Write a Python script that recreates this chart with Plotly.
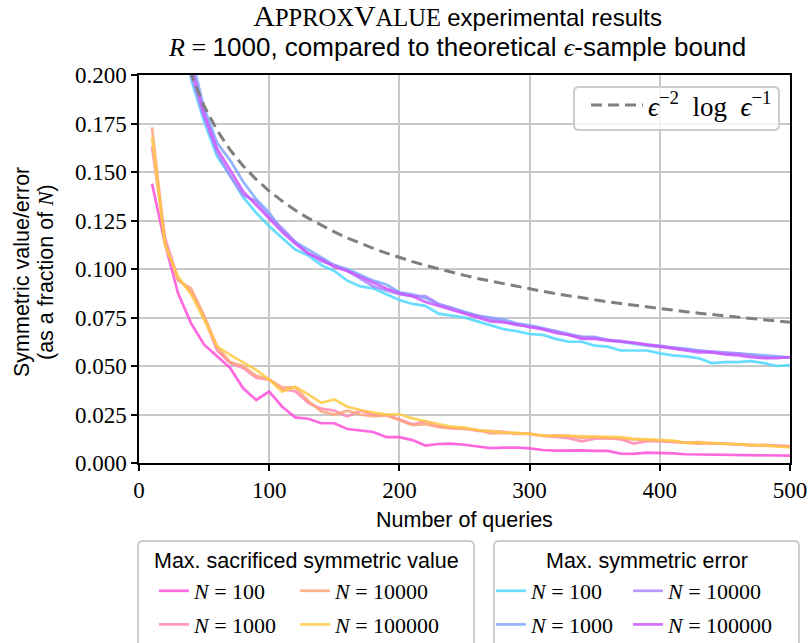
import plotly.graph_objects as go

queries = list(range(10, 501, 10))

bound_eps = [0.332, 0.2597, 0.2235, 0.2005, 0.184, 0.1715, 0.1614, 0.1531, 0.1462, 0.1402,
             0.1350, 0.1303, 0.1262, 0.1225, 0.1191, 0.1160, 0.1132, 0.1106, 0.1082, 0.1059,
             0.1038, 0.1019, 0.1001, 0.0983, 0.0967, 0.0951, 0.0937, 0.0923, 0.0910, 0.0897,
             0.0885, 0.0873, 0.0862, 0.0851, 0.0841, 0.0831, 0.0822, 0.0813, 0.0804, 0.0796,
             0.0787, 0.0780, 0.0772, 0.0765, 0.0757, 0.0751, 0.0744, 0.0737, 0.0731, 0.0725]

sacrificed_100 = [0.144, 0.113, 0.0875, 0.072, 0.061, 0.055, 0.049, 0.0385, 0.0325, 0.0368,
                  0.029, 0.0235, 0.0228, 0.0205, 0.0205, 0.0175, 0.0168, 0.016, 0.0133, 0.0133,
                  0.0118, 0.0090, 0.0098, 0.0100, 0.0094, 0.0085, 0.0077, 0.0079, 0.0080, 0.0075,
                  0.0067, 0.0064, 0.0066, 0.0065, 0.0063, 0.0062, 0.0048, 0.0047, 0.0053, 0.0052,
                  0.0050, 0.0045, 0.0044, 0.0045, 0.0044, 0.0042, 0.0040, 0.0039, 0.0039, 0.0038]
sacrificed_1000 = [0.163, 0.116, 0.095, 0.088, 0.075, 0.058, 0.0515, 0.049, 0.044, 0.043,
                   0.038, 0.037, 0.031, 0.028, 0.027, 0.0239, 0.027, 0.025, 0.025, 0.0225,
                   0.020, 0.0215, 0.019, 0.018, 0.018, 0.0165, 0.0165, 0.016, 0.0152, 0.0150,
                   0.0140, 0.0135, 0.0128, 0.0112, 0.0125, 0.0128, 0.0122, 0.0100, 0.0112, 0.0113,
                   0.0110, 0.0105, 0.0100, 0.0103, 0.0100, 0.0095, 0.0094, 0.0090, 0.0090, 0.0086]
sacrificed_10000 = [0.173, 0.114, 0.094, 0.090, 0.076, 0.060, 0.052, 0.050, 0.045, 0.043,
                    0.039, 0.039, 0.032, 0.0265, 0.025, 0.027, 0.025, 0.024, 0.0245, 0.022,
                    0.0195, 0.020, 0.0185, 0.018, 0.0175, 0.017, 0.0152, 0.0155, 0.0150, 0.0152,
                    0.0140, 0.0143, 0.0140, 0.0130, 0.0135, 0.0128, 0.0125, 0.0120, 0.0118, 0.0115,
                    0.0110, 0.0105, 0.0108, 0.0100, 0.0098, 0.0097, 0.0090, 0.0093, 0.0088, 0.0087]
sacrificed_100000 = [0.168, 0.112, 0.096, 0.087, 0.074, 0.060, 0.0557, 0.052, 0.048, 0.043,
                     0.0368, 0.0393, 0.0354, 0.031, 0.0328, 0.029, 0.0273, 0.026, 0.025, 0.0251,
                     0.023, 0.0215, 0.020, 0.0187, 0.0183, 0.017, 0.0165, 0.0158, 0.0155, 0.0150,
                     0.0141, 0.0142, 0.0140, 0.0138, 0.0138, 0.0135, 0.0134, 0.0124, 0.0122, 0.0119,
                     0.0115, 0.0103, 0.0105, 0.0103, 0.0100, 0.0098, 0.0094, 0.0090, 0.0085, 0.0080]

error_100 = [0.58, 0.36, 0.25, 0.198, 0.176, 0.158, 0.148, 0.137, 0.129, 0.122,
             0.116, 0.110, 0.107, 0.102, 0.099, 0.094, 0.091, 0.090, 0.087, 0.084,
             0.082, 0.081, 0.077, 0.076, 0.075, 0.073, 0.071, 0.069, 0.068, 0.0665,
             0.066, 0.064, 0.0625, 0.0625, 0.0605, 0.060, 0.058, 0.058, 0.058, 0.0565,
             0.0555, 0.055, 0.054, 0.0515, 0.052, 0.052, 0.0525, 0.0515, 0.050, 0.0505]
error_1000 = [0.62, 0.39, 0.27, 0.21, 0.183, 0.165, 0.156, 0.145, 0.136, 0.129,
              0.120, 0.114, 0.110, 0.106, 0.102, 0.100, 0.097, 0.094, 0.092, 0.088,
              0.087, 0.085, 0.082, 0.080, 0.078, 0.076, 0.075, 0.074, 0.072, 0.071,
              0.0695, 0.068, 0.0665, 0.065, 0.065, 0.0635, 0.0625, 0.0615, 0.0605, 0.060,
              0.0595, 0.059, 0.058, 0.057, 0.0565, 0.0565, 0.056, 0.0555, 0.055, 0.0545]
error_10000 = [0.61, 0.37, 0.26, 0.20, 0.178, 0.160, 0.148, 0.138, 0.135, 0.127,
               0.121, 0.114, 0.108, 0.104, 0.102, 0.099, 0.095, 0.091, 0.089, 0.087,
               0.086, 0.086, 0.082, 0.080, 0.0775, 0.076, 0.074, 0.073, 0.071, 0.0705,
               0.069, 0.068, 0.066, 0.065, 0.0645, 0.0635, 0.063, 0.062, 0.061, 0.0605,
               0.0595, 0.0585, 0.058, 0.0575, 0.057, 0.0565, 0.0555, 0.0545, 0.0545, 0.0545]
error_100000 = [0.60, 0.38, 0.26, 0.205, 0.180, 0.162, 0.151, 0.140, 0.133, 0.126,
                0.119, 0.113, 0.108, 0.105, 0.101, 0.099, 0.096, 0.093, 0.090, 0.0875,
                0.086, 0.083, 0.081, 0.079, 0.077, 0.075, 0.073, 0.0725, 0.0715, 0.070,
                0.069, 0.067, 0.066, 0.064, 0.064, 0.063, 0.0625, 0.062, 0.061, 0.060,
                0.059, 0.058, 0.057, 0.057, 0.056, 0.0555, 0.0545, 0.054, 0.054, 0.0545]

N_labels = ["100", "1000", "10000", "100000"]
sacrificed_series = [sacrificed_100, sacrificed_1000, sacrificed_10000, sacrificed_100000]
error_series = [error_100, error_1000, error_10000, error_100000]
sacrificed_colors = ["#ff50da", "#ff85b5", "#ffa57d", "#ffcb45"]
error_colors = ["#50d8ff", "#7ea8ff", "#aa88ff", "#cc55ff"]

SERIF = "Liberation Serif"
SANS = "Liberation Sans"
W, H = 809, 643
L, R, T, B = 139, 19, 75, 180
LABEL_SIZE = 21.5

fig = go.Figure()

for i, (vals, col) in enumerate(zip(sacrificed_series, sacrificed_colors)):
    fig.add_trace(go.Scatter(
        x=queries, y=vals, mode="lines", name=f"<i>N</i> = {N_labels[i]}",
        line=dict(color=col, width=2.7), opacity=0.85,
        legendgroup=f"s{i}",
        legend="legend2" if i < 2 else "legend3"))
for i, (vals, col) in enumerate(zip(error_series, error_colors)):
    fig.add_trace(go.Scatter(
        x=queries, y=vals, mode="lines", name=f"<i>N</i> = {N_labels[i]}",
        line=dict(color=col, width=2.7), opacity=0.85,
        legendgroup=f"e{i}",
        legend="legend4" if i < 2 else "legend5"))
fig.add_trace(go.Scatter(
    x=queries, y=bound_eps, mode="lines",
    name="<i>ϵ</i><sup>−2</sup>  log  <i>ϵ</i><sup>−1</sup>",
    line=dict(color="#7f7f7f", width=3, dash="11px,6px"),
    legend="legend"))


def px2paper_x(px):
    return (px - L) / (W - L - R)


def px2paper_y(py):
    return (H - B - py) / (H - B - T)


def leg(xpx, ypx, size=22, itemwidth=30):
    return dict(x=xpx / W, y=1 - ypx / H, xref="container", yref="container",
                xanchor="left", yanchor="top", bgcolor="rgba(0,0,0,0)",
                borderwidth=0, font=dict(family=SERIF, size=size, color="black"),
                itemwidth=itemwidth, tracegroupgap=2, visible=True)


def rounded(x0, y0, x1, y1, r=5):
    def X(v):
        return px2paper_x(v)

    def Y(v):
        return px2paper_y(v)
    return dict(type="path", xref="paper", yref="paper",
                path=(f"M {X(x0 + r)},{Y(y0)} L {X(x1 - r)},{Y(y0)} "
                      f"Q {X(x1)},{Y(y0)} {X(x1)},{Y(y0 + r)} L {X(x1)},{Y(y1 - r)} "
                      f"Q {X(x1)},{Y(y1)} {X(x1 - r)},{Y(y1)} L {X(x0 + r)},{Y(y1)} "
                      f"Q {X(x0)},{Y(y1)} {X(x0)},{Y(y1 - r)} L {X(x0)},{Y(y0 + r)} "
                      f"Q {X(x0)},{Y(y0)} {X(x0 + r)},{Y(y0)} Z"),
                line=dict(color="#cccccc", width=2),
                fillcolor="rgba(255,255,255,0.8)", layer="above")


def note(text, xpx, ypx, size, angle=0, family=SANS):
    return dict(text=text, xref="paper", yref="paper",
                x=px2paper_x(xpx), y=px2paper_y(ypx), showarrow=False,
                xanchor="center", yanchor="middle", textangle=angle,
                font=dict(family=family, size=size, color="black"))


big = "font-size:30px"
sc = "font-size:24.5px"
title1 = (f"<span style='font-family:{SERIF}'><span style='{big}'>A</span>"
          f"<span style='{sc}'>PPROX</span>"
          f"<span style='{big}'>V</span><span style='{sc}'>ALUE</span></span> "
          f"<span style='font-size:24px'>experimental results</span>")
title2 = (f"<span style='font-size:26px'><span style='font-family:{SERIF}'><i>R</i> = </span>"
          f"1000, compared to theoretical "
          f"<span style='font-family:{SERIF}'><i>ϵ</i></span>-sample bound</span>")

fig.update_layout(
    width=W, height=H,
    margin=dict(l=L, r=R, t=T, b=B, autoexpand=False),
    paper_bgcolor="white", plot_bgcolor="white",
    showlegend=True,
    xaxis=dict(range=[0, 500], dtick=100, tick0=0,
               showgrid=True, gridcolor="#c9c9c9", gridwidth=1.5,
               showline=True, linecolor="black", linewidth=1.5, mirror=True,
               ticks="outside", ticklen=6, tickwidth=1.5, tickcolor="black",
               zeroline=False,
               tickfont=dict(family=SERIF, size=23, color="black")),
    yaxis=dict(range=[0, 0.2], dtick=0.025, tick0=0, tickformat=".3f",
               showgrid=True, gridcolor="#c9c9c9", gridwidth=1.5,
               showline=True, linecolor="black", linewidth=1.5, mirror=True,
               ticks="outside", ticklen=6, tickwidth=1.5, tickcolor="black",
               zeroline=False,
               tickfont=dict(family=SERIF, size=23, color="black")),
    legend=leg(586, 81, size=27, itemwidth=52),
    legend2=leg(154, 570),
    legend3=leg(295, 570),
    legend4=leg(491, 570),
    legend5=leg(628, 570),
    shapes=[rounded(574, 87, 779, 130),
            rounded(138, 541, 474, 660),
            rounded(494, 541, 799, 660)],
    annotations=[
        note(title1 + "<br>" + title2, 457, 31, 23),
        note("Number of queries", 464, 520, LABEL_SIZE),
        note("Symmetric value/error", 22, 272, LABEL_SIZE, angle=-90),
        note(f"(as a fraction of <span style='font-family:{SERIF}'><i>N</i></span>)",
             46, 272, LABEL_SIZE, angle=-90),
        note("Max. sacrificed symmetric value", 306, 561, LABEL_SIZE),
        note("Max. symmetric error", 647, 561, LABEL_SIZE),
    ],
)

fig.write_html("out.html", config={"displayModeBar": False},
               post_script="document.body.style.margin='0px';")
